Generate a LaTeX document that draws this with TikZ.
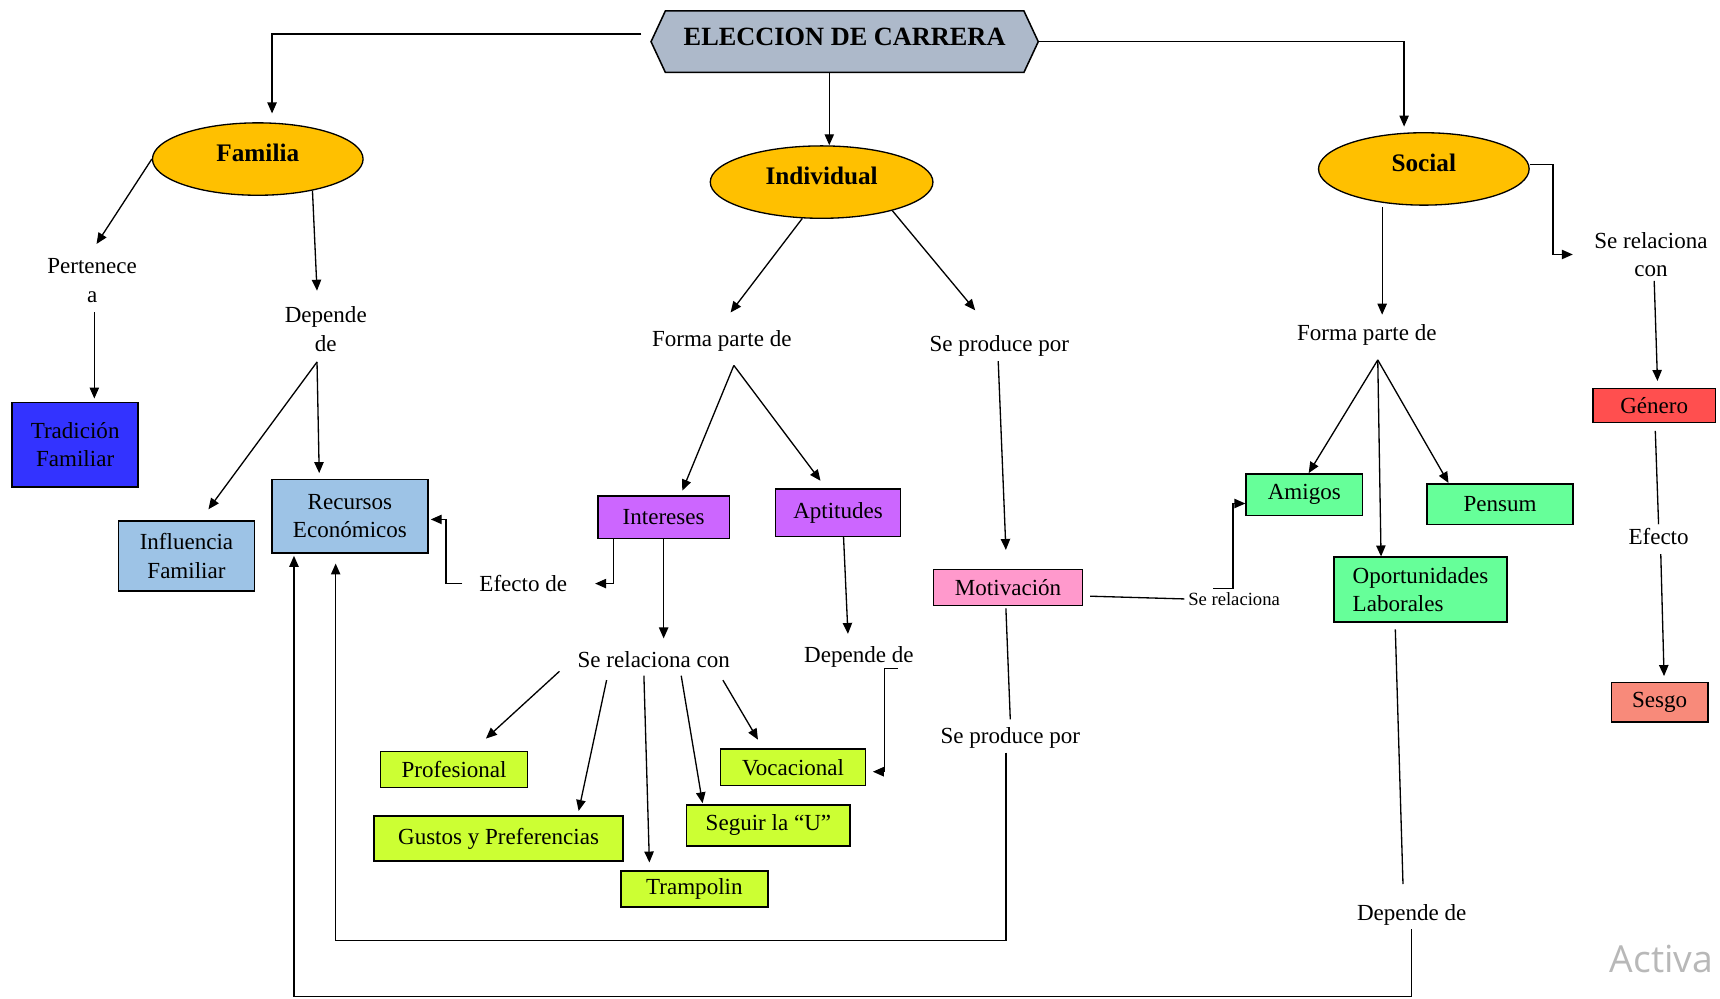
\documentclass[tikz,border=0pt]{standalone}
\usepackage{fontspec}
\setmainfont{Liberation Serif}
\newfontfamily\marcafont{Open Sans}
\usetikzlibrary{shapes.geometric,shapes.symbols,arrows.meta}

\definecolor{gris}{HTML}{ADB9CA}
\definecolor{oro}{HTML}{FFC000}
\definecolor{azul}{HTML}{3333FF}
\definecolor{celeste}{HTML}{9DC3E6}
\definecolor{lila}{HTML}{CC66FF}
\definecolor{lima}{HTML}{CCFF33}
\definecolor{rosa}{HTML}{FF99CC}
\definecolor{menta}{HTML}{66FF99}
\definecolor{rojo}{HTML}{FF4F4F}
\definecolor{salmon}{HTML}{F88A7A}

\def\letra{\fontsize{21}{26}\selectfont}

\begin{document}
\begin{tikzpicture}[x=1pt, y=-1pt, line width=1.2pt,
>={Triangle[length=10pt,width=8.5pt]},
caja/.style={draw, line width=1.4pt, align=center, font=\letra, inner sep=2pt},
ovalo/.style={ellipse, draw, line width=1.2pt, fill=oro, minimum width=192pt, minimum height=66pt, text depth=12pt, font=\fontsize{23}{28}\selectfont\bfseries}]

\useasboundingbox (0,0) rectangle (1568,910);

\node[signal, signal to=east and west, signal pointer angle=130, draw, line width=1.4pt, fill=gris,
minimum width=353pt, minimum height=56pt, text depth=9pt, font=\fontsize{24}{28}\selectfont\bfseries] (tit) at (770,38) {ELECCION DE CARRERA};

\node[ovalo] (fam) at (235,145) {Familia};
\node[ovalo, minimum width=203pt] (ind) at (749,166) {Individual};
\node[ovalo] (soc) at (1298,154) {Social};

\node[caja, fill=azul, minimum width=115pt, minimum height=77pt] (trad) at (68.5,405.5) {Tradición\\Familiar};
\node[caja, fill=celeste, minimum width=124pt, minimum height=64pt] (inf) at (170,507) {Influencia\\Familiar};
\node[caja, fill=celeste, minimum width=142pt, minimum height=67pt] (rec) at (319,470.5) {Recursos\\Económicos};
\node[caja, fill=lila, minimum width=120pt, minimum height=39pt] (inte) at (605,471.5) {Intereses};
\node[caja, fill=lila, minimum width=114pt, minimum height=43pt] (apt) at (764,467.5) {Aptitudes};
\node[caja, fill=lima, minimum width=134pt, minimum height=33pt] (prof) at (414,701.5) {Profesional};
\node[caja, fill=lima, minimum width=227pt, minimum height=41pt] (gust) at (454.5,764.5) {Gustos y Preferencias};
\node[caja, fill=lima, minimum width=134pt, minimum height=33pt] (tram) at (633,810.5) {Trampolin};
\node[caja, fill=lima, minimum width=149pt, minimum height=37pt] (seg) at (700.5,752.5) {Seguir la “U”};
\node[caja, fill=lima, minimum width=132pt, minimum height=33pt] (voc) at (723,699.5) {Vocacional};
\node[caja, fill=rosa, minimum width=136pt, minimum height=33pt] (mot) at (919,535.5) {Motivación};
\node[caja, fill=menta, minimum width=106pt, minimum height=38pt] (amig) at (1189,451) {Amigos};
\node[caja, fill=menta, minimum width=133pt, minimum height=37pt] (pens) at (1367.5,459.5) {Pensum};
\node[caja, fill=menta, minimum width=158pt, minimum height=59pt, align=left] (opor) at (1295,537.5) {Oportunidades\\Laborales};
\node[caja, fill=rojo, minimum width=112pt, minimum height=31pt] (gen) at (1508,369.5) {Género};
\node[caja, fill=salmon, minimum width=88pt, minimum height=36pt] (sesg) at (1513,640) {Sesgo};

\begin{scope}[every node/.style={align=center, font=\letra, inner sep=3pt}]
\node (pert) at (84,256) {Pertenece\\a};
\node (depf) at (297,300) {Depende\\de};
\node (efec) at (477,532) {Efecto de};
\node (formi) at (658,311) {Forma parte de};
\node (prod) at (911,315) {Se produce por};
\node (relc) at (596,601) {Se relaciona con};
\node (depa) at (783,599) {Depende de};
\node (prod2) at (921,673) {Se produce por};
\node[font=\fontsize{17}{20}\selectfont] (rels) at (1125,546) {Se relaciona};
\node (forms) at (1246,305) {Forma parte de};
\node (depo) at (1287,834) {Depende de};
\node (relg) at (1505,232) {Se relaciona\\con};
\node (efe) at (1512,489) {Efecto};
\end{scope}

\node[font=\marcafont\fontsize{34}{34}\selectfont, text=black!28, anchor=west, inner sep=0pt] (marca) at (1467,874) {Activa};

\draw[->] ([xshift=-8pt,yshift=7pt]tit.west) -| ([xshift=13pt,yshift=8pt]fam.north);
\draw[->] ([xshift=-14pt]tit.south) -- ([xshift=7pt]ind.north);
\draw[->] (tit.east) -| ([xshift=-18pt,yshift=5pt]soc.north);

\draw[->] (fam.west) -- ([xshift=4pt,yshift=10pt]pert.north);
\draw[->] ([xshift=2pt,yshift=-5pt]pert.south) -- ([xshift=2pt,yshift=3pt]pert.south |- trad.north);
\draw[->] (fam.-30) -- ([xshift=-8pt,yshift=11pt]depf.north);
\draw[->] ([xshift=-8pt,yshift=-6pt]depf.south) -- ([xshift=20pt,yshift=10pt]inf.north);
\draw[->] ([xshift=-8pt,yshift=-6pt]depf.south) -- ([xshift=-28pt,yshift=5pt]rec.north);

\draw[->] (ind.-118) -- ([xshift=8pt,yshift=13pt]formi.north);
\draw[->] (ind.-22) -- ([xshift=-22pt,yshift=19pt]prod.north);
\draw[->] ([xshift=11pt,yshift=-9pt]formi.south) -- ([xshift=17pt,yshift=4pt]inte.north);
\draw[->] ([xshift=11pt,yshift=-9pt]formi.south) -- ([xshift=-16pt,yshift=7pt]apt.north);

\draw[->] ([xshift=-46pt]inte.south) |- ([xshift=22pt]efec.east);
\draw[->] ([xshift=-12pt]efec.west) -- ++(-15,0) |- ([xshift=2pt,yshift=-3pt]rec.east);
\draw[->] (inte.south) -- ([yshift=8pt]inte.south |- relc.north);
\draw[->] ([xshift=5pt]apt.south) -- ([xshift=-10pt,yshift=8pt]depa.north);
\draw[->] ([xshift=-18pt,yshift=3pt]depa.south east) -- ++(-12,0) |- ([xshift=6pt,yshift=-4pt]voc.east);

\draw[->] ([xshift=-86pt]relc.south) -- ([xshift=29pt,yshift=11pt]prof.north);
\draw[->] ([xshift=-43pt,yshift=-8pt]relc.south) -- ([xshift=73pt,yshift=4pt]gust.north);
\draw[->] ([xshift=-9pt,yshift=-4pt]relc.south) -- ([xshift=-41pt,yshift=7pt]tram.north);
\draw[->] ([xshift=25pt,yshift=-4pt]relc.south) -- ([xshift=-60pt,yshift=1pt]seg.north);
\draw[->] ([xshift=63pt,yshift=-8pt]relc.south) -- ([xshift=-32pt,yshift=8pt]voc.north);

\draw[->] ([xshift=-1pt,yshift=-1pt]prod.south) -- ([xshift=-2pt,yshift=17pt]mot.north);
\draw ([xshift=-2pt,yshift=-2pt]mot.south) -- ([yshift=4pt]prod2.north);
\draw[->] ([xshift=-4pt]prod2.south) -- ++(0,171) -| ([xshift=-13pt,yshift=-9pt]rec.south);
\draw ([xshift=6pt,yshift=-8pt]mot.east) -- (rels.west);
\draw[->] ([xshift=-19pt]rels.north) -- ++(18,0) |- ([yshift=-8pt]amig.west);

\draw[->] ([xshift=-38pt,yshift=-1pt]soc.south) -- ([xshift=14pt,yshift=5pt]forms.north);
\draw[->] ([xshift=10pt,yshift=-10pt]forms.south) -- ([xshift=4pt]amig.north);
\draw[->] ([xshift=10pt,yshift=-10pt]forms.south) -- ([xshift=-36pt]opor.north);
\draw[->] ([xshift=10pt,yshift=-10pt]forms.south) -- ([xshift=-47pt]pens.north);
\draw ([xshift=-23pt,yshift=-6pt]opor.south) -- ([xshift=-8pt,yshift=15pt]depo.north);
\draw[->] (depo.south) -- ++(0,61) -| ([xshift=-51pt,yshift=-2pt]rec.south);

\draw[->] ([yshift=4pt]soc.east) -- ++(21,0) |- ([xshift=-16pt]relg.west);
\draw[->] ([xshift=3pt]relg.south) -- ([xshift=3pt,yshift=6pt]gen.north);
\draw ([xshift=1pt,yshift=-7pt]gen.south) -- (efe.north);
\draw[->] ([xshift=2pt,yshift=-5pt]efe.south) -- ([xshift=4pt,yshift=5pt]sesg.north);

\end{tikzpicture}
\end{document}
